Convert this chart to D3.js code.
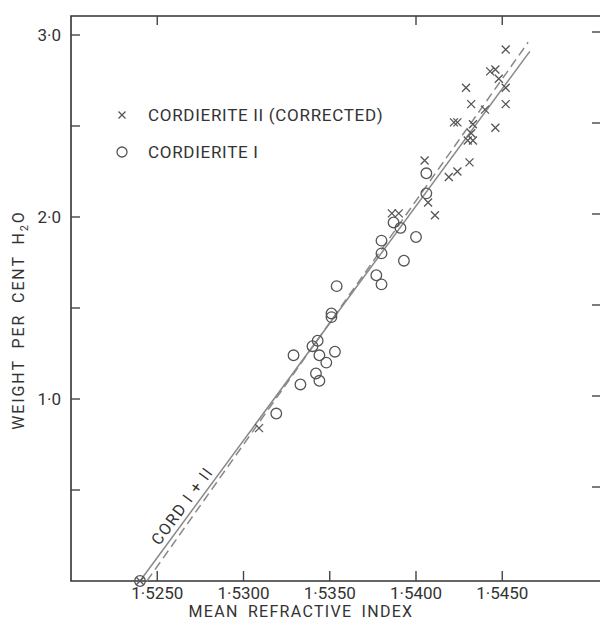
<!DOCTYPE html>
<html>
<head>
<meta charset="utf-8" />
<title>Cordierite refractive index</title>
<style>
body { margin: 0; background: #fff; }
text { font-family: Roboto, "DejaVu Sans", sans-serif; fill: #333; }
.frame { fill: none; stroke: #333; stroke-width: 1.6; }
.tick { stroke: #444; stroke-width: 1.4; }
.fit { fill: none; stroke: #888; stroke-width: 1.5; }
.mark { fill: none; stroke: #555; stroke-width: 1.3; }
</style>
</head>
<body>
<svg width="600" height="627"></svg>
<script src="https://d3js.org/d3.v7.min.js"></script>
<script>

// cordierite II (corrected) - crosses
var cord2X = [1.5452, 1.5443, 1.5446, 1.5448, 1.5452, 1.5429, 1.5432, 1.5452, 1.5440,
              1.5422, 1.5424, 1.5433, 1.5446, 1.5432, 1.5430, 1.5433, 1.5405, 1.5431,
              1.5424, 1.5419, 1.5407, 1.5411, 1.5386, 1.5390, 1.5309, 1.5240];
var cord2Y = [2.92, 2.80, 2.81, 2.76, 2.71, 2.71, 2.62, 2.62, 2.59,
              2.52, 2.52, 2.51, 2.49, 2.46, 2.42, 2.42, 2.31, 2.30,
              2.25, 2.22, 2.08, 2.01, 2.02, 2.02, 0.84, 0.00];

// cordierite I - circles
var cord1X = [1.5406, 1.5406, 1.5387, 1.5391, 1.5400, 1.5380, 1.5380, 1.5393, 1.5377,
              1.5380, 1.5354, 1.5351, 1.5351, 1.5343, 1.5340, 1.5329, 1.5344, 1.5353,
              1.5348, 1.5342, 1.5344, 1.5333, 1.5319, 1.5240];
var cord1Y = [2.24, 2.13, 1.97, 1.94, 1.89, 1.87, 1.80, 1.76, 1.68,
              1.63, 1.62, 1.47, 1.45, 1.32, 1.29, 1.24, 1.24, 1.26,
              1.20, 1.14, 1.10, 1.08, 0.92, 0.00];

// regression lines, end points
var solidLine = [[1.5240, 0.0], [1.5466, 2.91]];
var dashedLine = [[1.5244, 0.0], [1.5465, 2.96]];

var xTicks = [1.5250, 1.5300, 1.5350, 1.5400, 1.5450];
var xTickLabels = ["1·5250", "1·5300", "1·5350", "1·5400", "1·5450"];
var xTopTicks = [1.5250, 1.5400, 1.5450];
var yTicks = [1.0, 2.0, 3.0];
var yTickLabels = ["1·0", "2·0", "3·0"];
var yMinor = [0.5, 1.5, 2.5];

var svg = d3.select("svg"),
    pLeft = 71, pRight = 600, pTop = 16, pBottom = 581;

var x = d3.scaleLinear().domain([1.5200, 1.5500]).range([71, 588.5]),
    y = d3.scaleLinear().domain([0, 3]).range([581, 35]);

// frame
svg.append("path").attr("class", "frame")
    .attr("d", "M" + pRight + "," + pTop + "H" + pLeft + "V" + pBottom + "H" + pRight);

// ticks
svg.selectAll(".xt").data(xTicks).enter().append("line")
    .attr("class", "tick")
    .attr("x1", function(d) { return x(d); }).attr("x2", function(d) { return x(d); })
    .attr("y1", pBottom).attr("y2", pBottom - 10);
svg.selectAll(".xtt").data(xTopTicks).enter().append("line")
    .attr("class", "tick")
    .attr("x1", function(d) { return x(d); }).attr("x2", function(d) { return x(d); })
    .attr("y1", pTop).attr("y2", pTop + 9);
svg.selectAll(".yt").data(yTicks.concat(yMinor)).enter().append("line")
    .attr("class", "tick")
    .attr("x1", pLeft).attr("x2", pLeft + 9)
    .attr("y1", function(d) { return y(d); }).attr("y2", function(d) { return y(d); });
svg.selectAll(".ytr").data(yTicks.concat(yMinor)).enter().append("line")
    .attr("class", "tick")
    .attr("x1", pRight).attr("x2", pRight - 8)
    .attr("y1", function(d) { return y(d) - 3; }).attr("y2", function(d) { return y(d) - 3; });

svg.selectAll(".xl").data(xTicks).enter().append("text")
    .attr("x", function(d) { return x(d); })
    .attr("y", 599)
    .attr("text-anchor", "middle")
    .style("font-size", "17px")
    .text(function(d, i) { return xTickLabels[i]; });
svg.selectAll(".yl").data(yTicks).enter().append("text")
    .attr("x", 61)
    .attr("y", function(d) { return y(d) + 6; })
    .attr("text-anchor", "end")
    .style("font-size", "17px")
    .text(function(d, i) { return yTickLabels[i]; });

// axis titles
svg.append("text")
    .attr("x", 301).attr("y", 617)
    .attr("text-anchor", "middle")
    .style("font-size", "16px").style("letter-spacing", "1.3px")
    .style("word-spacing", "4px")
    .text("MEAN REFRACTIVE INDEX");

var yl = svg.append("text")
    .attr("transform", "translate(24,320) rotate(-90)")
    .attr("text-anchor", "middle")
    .style("font-size", "16px").style("letter-spacing", "1.9px")
    .style("word-spacing", "5px");
yl.append("tspan").text("WEIGHT PER CENT H");
yl.append("tspan").attr("dy", 4).style("font-size", "11px").text("2");
yl.append("tspan").attr("dy", -4).text("O");

// fitted lines
var line = d3.line().x(function(d) { return x(d[0]); }).y(function(d) { return y(d[1]); });
svg.append("path").attr("class", "fit").attr("d", line(solidLine));
svg.append("path").attr("class", "fit").attr("d", line(dashedLine))
    .attr("stroke-dasharray", "9,5");

// line label along the solid line
var t = 0.13,
    lx = x(solidLine[0][0] + t * (solidLine[1][0] - solidLine[0][0])),
    ly = y(solidLine[0][1] + t * (solidLine[1][1] - solidLine[0][1])),
    ang = Math.atan2(y(solidLine[1][1]) - y(solidLine[0][1]), x(solidLine[1][0]) - x(solidLine[0][0])) * 180 / Math.PI;
svg.append("text")
    .attr("transform", "translate(" + lx + "," + ly + ") rotate(" + ang + ")")
    .attr("y", -5)
    .attr("text-anchor", "middle")
    .style("font-size", "16px").style("letter-spacing", "1.5px")
    .text("CORD  I + II");

// markers
var c1 = cord1X.map(function(v, i) { return [v, cord1Y[i]]; }),
    c2 = cord2X.map(function(v, i) { return [v, cord2Y[i]]; });

svg.selectAll(".circ").data(c1).enter().append("circle")
    .attr("class", "mark")
    .attr("cx", function(d) { return x(d[0]); })
    .attr("cy", function(d) { return y(d[1]); })
    .attr("r", 5.3);

var cross = "M-4,-4L4,4M-4,4L4,-4";
svg.selectAll(".crs").data(c2).enter().append("path")
    .attr("class", "mark")
    .attr("transform", function(d) { return "translate(" + x(d[0]) + "," + y(d[1]) + ")"; })
    .attr("d", cross);

// legend
var legend = [{sym: "x", label: "CORDIERITE II (CORRECTED)"}, {sym: "o", label: "CORDIERITE I"}];
var lg = svg.selectAll(".lg").data(legend).enter().append("g")
    .attr("transform", function(d, i) { return "translate(122," + (115 + i * 37) + ")"; });
lg.filter(function(d) { return d.sym == "x"; }).append("path")
    .attr("class", "mark").attr("d", "M-3.5,-3.5L3.5,3.5M-3.5,3.5L3.5,-3.5");
lg.filter(function(d) { return d.sym == "o"; }).append("circle")
    .attr("class", "mark").attr("r", 5);
lg.append("text")
    .attr("x", 26).attr("y", 6)
    .style("font-size", "17px").style("letter-spacing", "0.7px")
    .text(function(d) { return d.label; });

</script>
</body>
</html>
